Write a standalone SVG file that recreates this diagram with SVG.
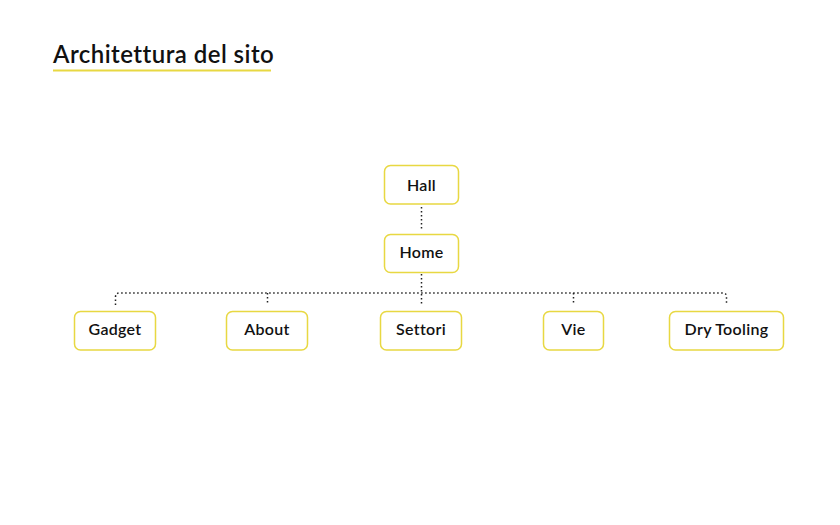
<svg xmlns="http://www.w3.org/2000/svg" width="840" height="525" viewBox="0 0 840 525">
<style>
.box{fill:#fff;stroke:#e8d842;stroke-width:1.5}
.lbl{font-family:Lato,"Noto Sans",sans-serif;font-size:16px;font-weight:600;letter-spacing:0.3px;fill:#111;text-anchor:middle;dominant-baseline:central}
.con{fill:none;stroke:#222;stroke-width:1.5;stroke-dasharray:1.5 2.5}
</style>
<rect width="840" height="525" fill="#fff"/>
<g id="title">
<text x="53" y="63" font-family="Lato,'Noto Sans',sans-serif" font-size="24" font-weight="600" letter-spacing="0.45" fill="#111">Architettura del sito</text>
<line x1="53" y1="70.5" x2="271" y2="70.5" stroke="#e8d842" stroke-width="2"/>
</g>
<g id="connectors">
<path class="con" d="M421.5 207V229"/>
<path class="con" d="M421.5 274V305"/>
<path class="con" d="M115.5 305V297Q115.5 293 119.5 293H722.5Q726.5 293 726.5 297V305"/>
<path class="con" d="M267.5 293V305"/>
<path class="con" d="M573.5 293V305"/>
</g>
<g id="hall"><rect class="box" x="384.5" y="165.5" width="74" height="38.5" rx="6"/><text class="lbl" x="421.5" y="184">Hall</text></g>
<g id="home"><rect class="box" x="384.5" y="234.5" width="74" height="38" rx="6"/><text class="lbl" x="421.5" y="251">Home</text></g>
<g id="gadget"><rect class="box" x="74.5" y="311.5" width="81" height="38.5" rx="6"/><text class="lbl" x="115" y="328.5">Gadget</text></g>
<g id="about"><rect class="box" x="226.5" y="311.5" width="81" height="38.5" rx="6"/><text class="lbl" x="267" y="328.5">About</text></g>
<g id="settori"><rect class="box" x="380.5" y="311.5" width="81" height="38.5" rx="6"/><text class="lbl" x="421" y="328.5">Settori</text></g>
<g id="vie"><rect class="box" x="543.5" y="311.5" width="60" height="38.5" rx="6"/><text class="lbl" x="573.5" y="328.5">Vie</text></g>
<g id="drytooling"><rect class="box" x="669.5" y="311.5" width="114" height="38.5" rx="6"/><text class="lbl" x="726.5" y="328.5">Dry Tooling</text></g>
</svg>
